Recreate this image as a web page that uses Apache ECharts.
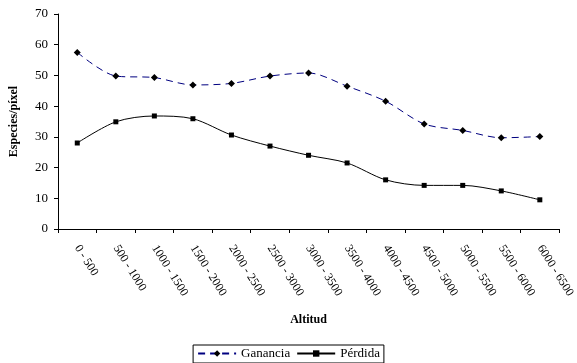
<!DOCTYPE html>
<html>
<head>
<meta charset="utf-8">
<script src="https://cdn.jsdelivr.net/npm/echarts@6/dist/echarts.min.js"></script>
<style>
  html, body { margin: 0; padding: 0; background: #fff; }
  #chart { width: 577px; height: 363px; }
</style>
</head>
<body>
<div id="chart"></div>
<script>
// Altitude bands (m)
const categories = ['0 - 500', '500 - 1000', '1000 - 1500', '1500 - 2000', '2000 - 2500',
  '2500 - 3000', '3000 - 3500', '3500 - 4000', '4000 - 4500', '4500 - 5000',
  '5000 - 5500', '5500 - 6000', '6000 - 6500'];
// Species per pixel gained / lost in each band
const ganancia = [57.5, 49.8, 49.3, 46.9, 47.4, 49.8, 50.8, 46.5, 41.6, 34.2, 32.1, 29.7, 30.1];
const perdida = [28.0, 34.9, 36.8, 35.9, 30.6, 27.0, 24.0, 21.5, 16.0, 14.2, 14.2, 12.4, 9.5];
const yTicks = { min: 0, max: 70, interval: 10 };

const serif = '"Liberation Serif", "Times New Roman", serif';
const chart = echarts.init(document.getElementById('chart'), null, { renderer: 'canvas' });

chart.setOption({
  backgroundColor: '#ffffff',
  animation: false,
  textStyle: { fontFamily: serif, color: '#000' },
  grid: { left: 53, right: 17, top: 14, bottom: 134, containLabel: false },
  legend: {
    bottom: 0,
    left: 'center',
    itemWidth: 38,
    itemHeight: 8,
    itemGap: 6,
    padding: [2, 4, 3, 4],
    borderColor: '#000',
    borderWidth: 1,
    borderRadius: 0,
    textStyle: { fontFamily: serif, fontSize: 13, color: '#000' },
    data: ['Ganancia', 'Pérdida']
  },
  xAxis: {
    type: 'category',
    data: categories,
    boundaryGap: true,
    name: 'Altitud',
    nameLocation: 'middle',
    nameGap: 85,
    nameTextStyle: { fontFamily: serif, fontSize: 12, fontWeight: 'bold', color: '#000' },
    axisLine: { lineStyle: { color: '#000', width: 1 } },
    axisTick: { show: true, length: 4, lineStyle: { color: '#000' } },
    axisLabel: {
      rotate: -58,
      margin: 17,
      fontFamily: serif,
      fontSize: 12,
      color: '#000',
      interval: 0
    },
    splitLine: { show: false }
  },
  yAxis: {
    type: 'value',
    min: yTicks.min,
    max: yTicks.max,
    interval: yTicks.interval,
    name: 'Especies/píxel',
    nameLocation: 'middle',
    nameGap: 38,
    nameRotate: 90,
    nameTextStyle: { fontFamily: serif, fontSize: 12, fontWeight: 'bold', color: '#000' },
    axisLine: { show: true, lineStyle: { color: '#000', width: 1 } },
    axisTick: { show: true, length: 4, lineStyle: { color: '#000' } },
    axisLabel: { fontFamily: serif, fontSize: 13, color: '#000', margin: 10 },
    splitLine: { show: false }
  },
  series: [
    {
      name: 'Ganancia',
      type: 'line',
      data: ganancia,
      smooth: 0.3,
      symbol: 'diamond',
      symbolSize: 7,
      itemStyle: { color: '#000' },
      lineStyle: { color: '#000080', width: 1, type: [7, 5] },
      color: '#000080'
    },
    {
      name: 'Pérdida',
      type: 'line',
      data: perdida,
      smooth: 0.3,
      symbol: 'rect',
      symbolSize: 5,
      itemStyle: { color: '#000' },
      lineStyle: { color: '#000', width: 1 },
      color: '#000'
    }
  ]
});
</script>
</body>
</html>
